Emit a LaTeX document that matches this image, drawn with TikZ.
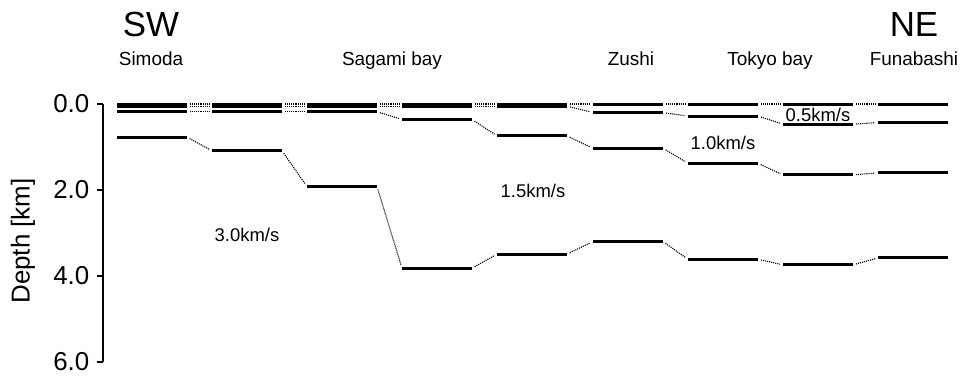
\documentclass[tikz,border=0pt]{standalone}
\usepackage{fontspec}
\setmainfont{Liberation Sans}
\usepackage{tikz}

\begin{document}
\begin{tikzpicture}[x=1bp,y=-1bp,
  bar/.style={line width=3bp},
  link/.style={densely dotted,line width=1.1bp,shorten <=3bp,shorten >=3bp},
  axis/.style={line width=1.4bp},
  side/.style={font=\fontsize{35}{35}\selectfont,anchor=base},
  station/.style={font=\fontsize{19}{19}\selectfont,anchor=base},
  speed/.style={font=\fontsize{18.5}{18.5}\selectfont,anchor=base},
  tick label/.style={font=\fontsize{26}{26}\selectfont,anchor=east,inner sep=0pt,xshift=-7bp}]
  \useasboundingbox (0,0) rectangle (962,379);
  % headings
  \node[side] (sw) at (151,36) {SW};
  \node[side] (ne) at (914,36) {NE};
  \node[station] (simoda) at (151,65) {Simoda};
  \node[station] (sagami) at (392,65) {Sagami bay};
  \node[station] (zushi) at (631,65) {Zushi};
  \node[station] (tokyo) at (770,65) {Tokyo bay};
  \node[station] (funa) at (914,65) {Funabashi};
  % depth axis
  \coordinate (top) at (103,104);
  \coordinate (bot) at (103,362);
  \draw[axis] (top) -- (bot);
  \foreach \d in {0,2,4,6}
    \draw[axis] (103,{104+43*\d}) -- ++(-6,0) node[tick label] (t\d) {\d.0};
  \node[rotate=90,font=\fontsize{26}{26}\selectfont] (depth) at (23,241) {Depth [km]};
  % layer boundaries: column/left edge/depths [km]
  \foreach \c/\xl/\da/\db/\dc in {1/117/0.05/0.18/0.77, 2/212/0.05/0.18/1.09,
      3/307/0.05/0.18/1.92, 4/402/0.05/0.36/3.82, 5/497/0.05/0.74/3.49,
      6/593/0.20/1.03/3.20, 7/688/0.28/1.38/3.61, 8/783/0.47/1.65/3.74,
      9/878/0.43/1.60/3.58}{
    \foreach \k/\d in {0/0,1/\da,2/\db,3/\dc}{
      \coordinate (b\c-\k-l) at (\xl,{104+43*\d});
      \coordinate (b\c-\k-r) at (\xl+70,{104+43*\d});
      \draw[bar] (b\c-\k-l) -- (b\c-\k-r);
    }
  }
  \foreach \c [evaluate=\c as \n using int(\c+1)] in {1,...,8}
    \foreach \k in {0,...,3}
      \draw[link] (b\c-\k-r) -- (b\n-\k-l);
  % velocities
  \node[speed] (v05) at (818,121) {0.5km/s};
  \node[speed] (v10) at (723,149) {1.0km/s};
  \node[speed] (v15) at (533,197) {1.5km/s};
  \node[speed] (v30) at (247,241) {3.0km/s};
\end{tikzpicture}
\end{document}
